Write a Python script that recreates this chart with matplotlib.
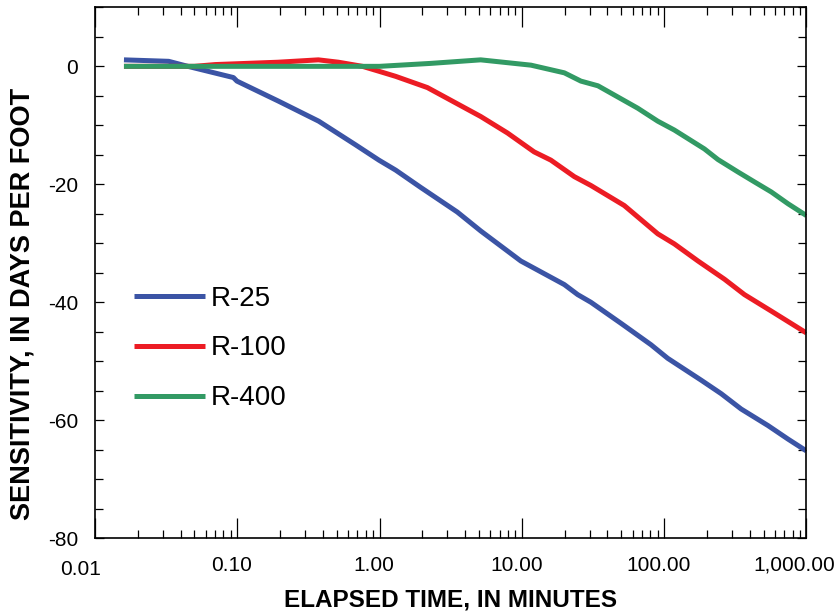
import matplotlib
matplotlib.use("Agg")
import matplotlib.pyplot as plt
from matplotlib.ticker import FixedLocator, NullFormatter, MultipleLocator
from matplotlib.transforms import ScaledTranslation

plt.rcParams['font.family'] = ['Liberation Sans', 'DejaVu Sans']
plt.rcParams['axes.unicode_minus'] = False

# elapsed time (minutes) and sensitivity (days per foot)
t_r25 = [0.016, 0.033, 0.045, 0.094, 0.0995, 0.195, 0.374, 0.678, 0.99, 1.30,
         1.94, 3.52, 5.14, 9.84, 19.9, 24.7, 30.6, 50.0, 80.9, 106, 182, 252,
         348, 537, 743, 1000]
s_r25 = [1.1, 0.85, 0.0, -1.9, -2.5, -5.9, -9.3, -13.3, -15.9, -17.6,
         -20.5, -24.7, -27.9, -33.0, -37.0, -38.7, -40.0, -43.6, -47.2, -49.5,
         -53.2, -55.5, -58.1, -60.9, -63.2, -65.2]

t_r100 = [0.016, 0.05, 0.07, 0.194, 0.372, 0.514, 0.759, 0.98, 1.30, 2.17,
          5.14, 7.93, 12.2, 16.0, 23.4, 30.6, 52.5, 90.3, 118, 173, 266, 367,
          567, 1000]
s_r100 = [0.0, 0.0, 0.3, 0.7, 1.1, 0.7, 0.0, -0.8, -1.7, -3.6,
          -8.5, -11.3, -14.5, -15.9, -18.7, -20.2, -23.6, -28.4, -30.1, -33.0,
          -36.1, -38.7, -41.5, -45.2]

t_r400 = [0.016, 0.1, 0.5, 1.0, 2.29, 5.14, 11.6, 19.9, 26.0, 34.3, 65.3,
          90.3, 118, 192, 239, 330, 432, 567, 743, 1000]
s_r400 = [0.0, 0.0, 0.0, 0.0, 0.5, 1.1, 0.2, -1.1, -2.5, -3.3, -7.1,
          -9.3, -10.8, -14.0, -15.8, -17.9, -19.6, -21.3, -23.3, -25.3]

series = [("R-25", t_r25, s_r25, "#3b54a5"),
          ("R-100", t_r100, s_r100, "#ec1c24"),
          ("R-400", t_r400, s_r400, "#329a64")]

x_ticks = [0.01, 0.1, 1, 10, 100, 1000]
x_labels = ["0.01", "0.10", "1.00", "10.00", "100.00", "1,000.00"]
y_ticks = [0, -20, -40, -60, -80]

fig = plt.figure(figsize=(8.4, 6.13), dpi=100)
ax = fig.add_axes([0.113, 0.122, 0.847, 0.866])

for name, t, s, c in series:
    ax.plot(t, s, color=c, lw=3.6, label=name, solid_capstyle='butt')

ax.set_xscale('log')
ax.set_xlim(0.01, 1000)
ax.set_ylim(-80, 10)

ax.xaxis.set_major_locator(FixedLocator(x_ticks))
ax.xaxis.set_minor_locator(FixedLocator([m * 10.0 ** e for e in range(-2, 3) for m in range(2, 10)]))
ax.xaxis.set_minor_formatter(NullFormatter())
ax.set_xticks(x_ticks)
ax.set_xticklabels(x_labels)
ax.set_yticks(y_ticks)
ax.yaxis.set_minor_locator(MultipleLocator(5))

ax.tick_params(axis='x', which='major', direction='in', length=14.5, width=0.9,
               top=True, bottom=True, labelsize=15, pad=12.5)
ax.tick_params(axis='x', which='minor', direction='in', length=6, width=0.9,
               top=True, bottom=True)
ax.tick_params(axis='y', which='major', direction='in', length=6.5, width=0.9,
               left=True, right=True, labelsize=15, pad=12)
ax.tick_params(axis='y', which='minor', direction='in', length=6, width=0.9,
               left=True, right=True)
for sp in ax.spines.values():
    sp.set_linewidth(1.2)

# small nudges so the labels sit where the original has them
for lab in ax.get_xticklabels():
    dx, dy = -4 / 72, 0
    if lab.get_text() == "0.01":
        dx, dy = -10 / 72, -3 / 72
    elif lab.get_text() == "1,000.00":
        dx = -9 / 72
    lab.set_transform(lab.get_transform() + ScaledTranslation(dx, dy, fig.dpi_scale_trans))

ax.set_xlabel("ELAPSED TIME, IN MINUTES", fontsize=17.5, fontweight='bold', labelpad=7)
ax.set_ylabel("SENSITIVITY, IN DAYS PER FOOT", fontsize=19.5, fontweight='bold')
ax.yaxis.set_label_coords(-0.084, 0.441)

ax.legend(loc='upper left', bbox_to_anchor=(0.055, 0.476), frameon=False, fontsize=20,
          handlelength=2.55, handletextpad=0.2, labelspacing=0.86, borderpad=0,
          borderaxespad=0)

fig.savefig("out.png", dpi=100)
